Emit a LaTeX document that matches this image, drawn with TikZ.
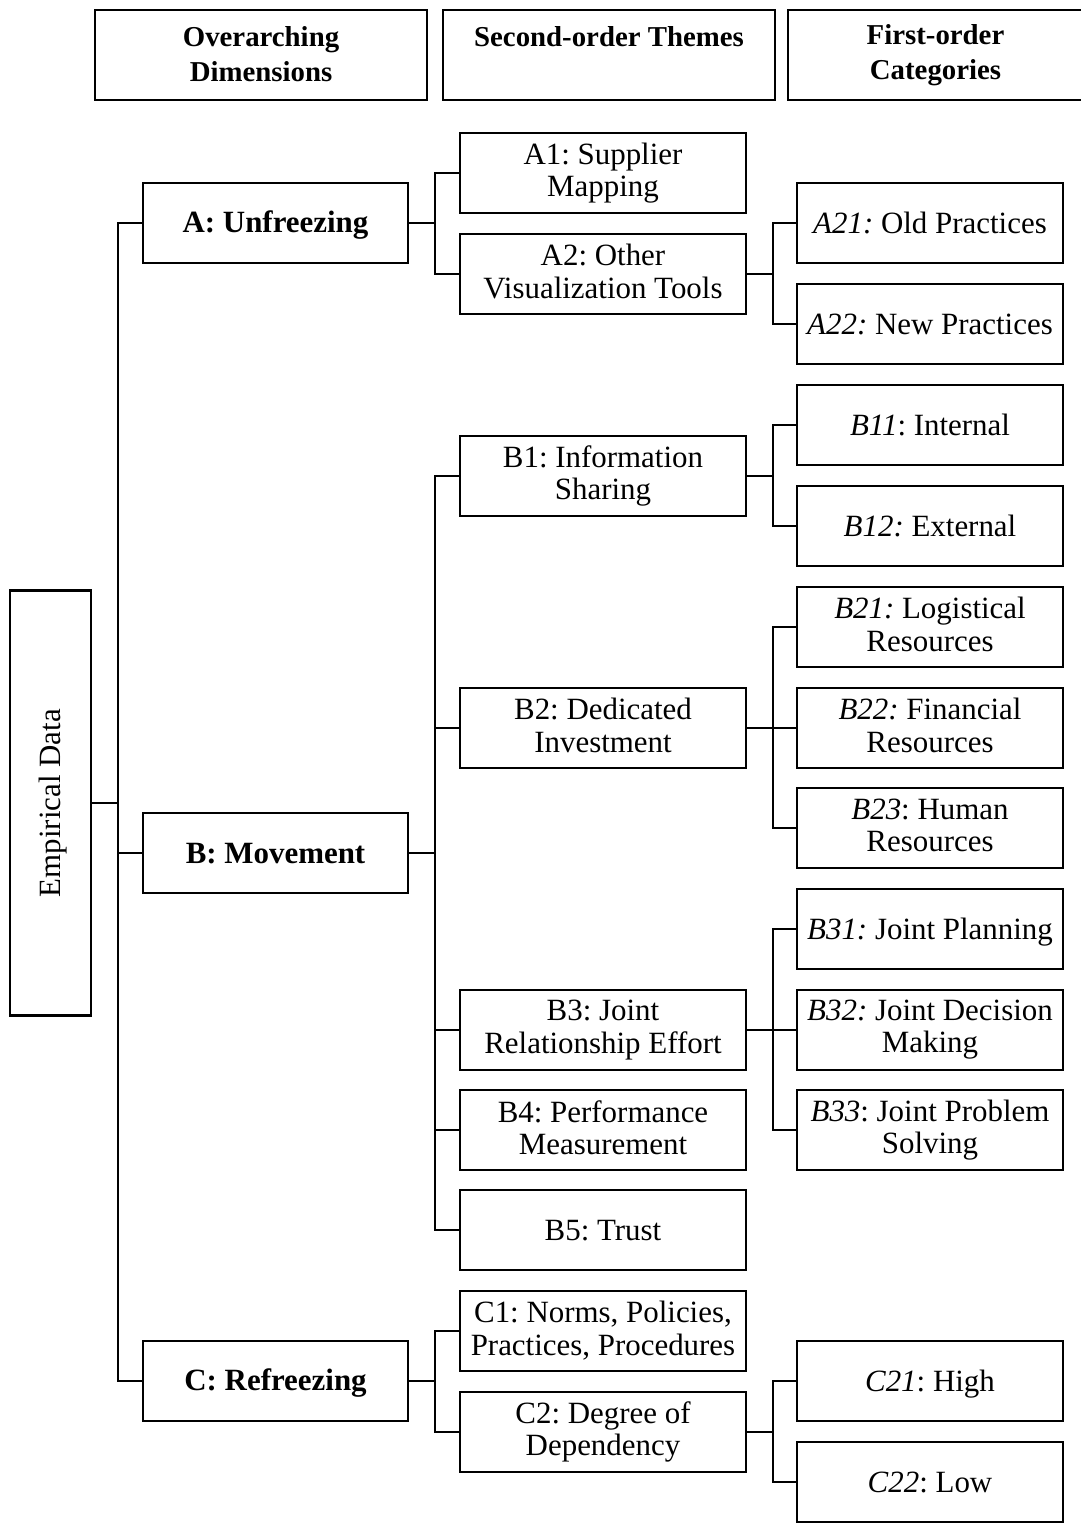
\documentclass[tikz,border=0pt]{standalone}
\usepackage{fontspec}
\setmainfont{Liberation Serif}
\newcommand\mybodyfont{\fontsize{17.6}{18.3}\selectfont}
\newcommand\myheadfont{\fontsize{16.4}{19.8}\selectfont\bfseries}
\newcommand\mystrut{\rule[-0.17\baselineskip]{0pt}{\baselineskip}}
\newcommand\myheadstrut{\rule[-0.08\baselineskip]{0pt}{\baselineskip}}
\begin{document}
\frenchspacing
\begin{tikzpicture}[x=0.02cm,y=-0.02cm,
  box/.style={draw, line width=1.2pt, inner sep=0pt, align=center, font=\mybodyfont,
    execute at begin node=\mystrut, execute at end node=\mystrut},
  head/.style={draw, line width=1.2pt, inner sep=0pt, align=center, minimum height=1.8cm, font=\myheadfont,
    execute at begin node=\myheadstrut, execute at end node=\myheadstrut},
  dim/.style={box, minimum width=5.3cm, minimum height=1.6cm, font=\mybodyfont\bfseries},
  theme/.style={box, minimum width=5.72cm, minimum height=1.6cm},
  cat/.style={box, minimum width=5.32cm, minimum height=1.6cm},
  conn/.style={line width=0.9pt}]
\useasboundingbox (0,0) rectangle (1081,1529);

% headers
\node[head, minimum width=6.64cm] (H1) at (261,55) {Overarching\\Dimensions};
\node[head, minimum width=6.64cm] (H2) at (609,55) {Second-order Themes\\\mbox{}};
\node[head, minimum width=5.9cm] (H3) at (935.5,55) {First-order\\Categories};

% root
\node[box, rotate=90, minimum width=8.5cm, minimum height=1.62cm] (E) at (50.5,803) {Empirical Data};

% dimensions
\node[dim] (A) at (275.5,223) {A: Unfreezing};
\node[dim] (B) at (275.5,853) {B: Movement};
\node[dim] (C) at (275.5,1381) {C: Refreezing};

% themes
\node[theme] (A1) at (603,173) {A1: Supplier\\Mapping};
\node[theme] (A2) at (603,274) {A2: Other\\Visualization Tools};
\node[theme] (B1) at (603,476) {B1: Information\\Sharing};
\node[theme] (B2) at (603,728) {B2: Dedicated\\Investment};
\node[theme] (B3) at (603,1030) {B3: Joint\\Relationship Effort};
\node[theme] (B4) at (603,1130) {B4: Performance\\Measurement};
\node[theme] (B5) at (603,1230) {B5: Trust};
\node[theme] (C1) at (603,1331) {C1: Norms, Policies,\\Practices, Procedures};
\node[theme] (C2) at (603,1432) {C2: Degree of\\Dependency};

% categories
\node[cat] (A21) at (930,223) {\textit{A21:} Old Practices};
\node[cat] (A22) at (930,324) {\textit{A22:} New Practices};
\node[cat] (B11) at (930,425) {\textit{B11}: Internal};
\node[cat] (B12) at (930,526) {\textit{B12:} External};
\node[cat] (B21) at (930,627) {\textit{B21:} Logistical\\Resources};
\node[cat] (B22) at (930,728) {\textit{B22:} Financial\\Resources};
\node[cat] (B23) at (930,828) {\textit{B23}: Human\\Resources};
\node[cat] (B31) at (930,929) {\textit{B31:} Joint Planning};
\node[cat] (B32) at (930,1030) {\textit{B32:} Joint Decision\\Making};
\node[cat] (B33) at (930,1130) {\textit{B33}: Joint Problem\\Solving};
\node[cat] (C21) at (930,1381) {\textit{C21}: High};
\node[cat] (C22) at (930,1482) {\textit{C22}: Low};

% connectors: root -> dimensions
\draw[conn] (E.south) -- ++(26,0) coordinate (jE);
\foreach \t in {A,B,C} \draw[conn] (jE) |- (\t.west);

% dimensions -> themes
\draw[conn] (A.east) -- ++(26,0) coordinate (jA);
\foreach \t in {A1,A2} \draw[conn] (jA) |- (\t.west);
\draw[conn] (B.east) -- ++(26,0) coordinate (jB);
\foreach \t in {B1,B2,B3,B4,B5} \draw[conn] (jB) |- (\t.west);
\draw[conn] (C.east) -- ++(26,0) coordinate (jC);
\foreach \t in {C1,C2} \draw[conn] (jC) |- (\t.west);

% themes -> categories
\draw[conn] (A2.east) -- ++(26,0) coordinate (jA2);
\foreach \t in {A21,A22} \draw[conn] (jA2) |- (\t.west);
\draw[conn] (B1.east) -- ++(26,0) coordinate (jB1);
\foreach \t in {B11,B12} \draw[conn] (jB1) |- (\t.west);
\draw[conn] (B2.east) -- ++(26,0) coordinate (jB2);
\foreach \t in {B21,B22,B23} \draw[conn] (jB2) |- (\t.west);
\draw[conn] (B3.east) -- ++(26,0) coordinate (jB3);
\foreach \t in {B31,B32,B33} \draw[conn] (jB3) |- (\t.west);
\draw[conn] (C2.east) -- ++(26,0) coordinate (jC2);
\foreach \t in {C21,C22} \draw[conn] (jC2) |- (\t.west);
\end{tikzpicture}
\end{document}
